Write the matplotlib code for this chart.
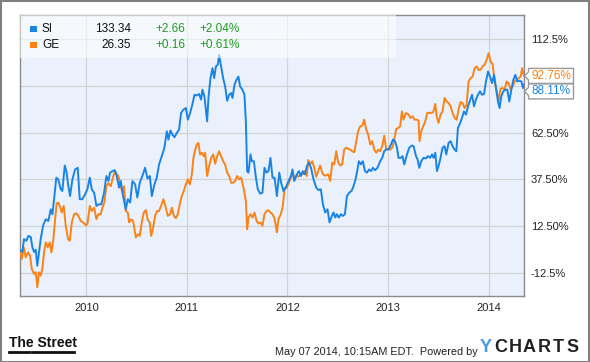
"""SI vs GE total return chart, YCharts style."""

import matplotlib

matplotlib.use("Agg")
import matplotlib.pyplot as plt
from matplotlib.lines import Line2D
from matplotlib.patches import Polygon, Rectangle
from matplotlib.transforms import IdentityTransform

plt.rcParams["font.family"] = ["Liberation Sans", "DejaVu Sans"]

# ---- data (decimal year, % change since May 2009) ----
SI_YEARS = [
    2009.335, 2009.363, 2009.380, 2009.403, 2009.423, 2009.447, 2009.463, 2009.480, 2009.497, 2009.512,
    2009.529, 2009.546, 2009.569, 2009.596, 2009.622, 2009.646, 2009.662, 2009.679, 2009.701, 2009.721,
    2009.745, 2009.761, 2009.785, 2009.801, 2009.821, 2009.838, 2009.861, 2009.888, 2009.914, 2009.934,
    2009.960, 2009.987, 2010.010, 2010.034, 2010.054, 2010.077, 2010.100, 2010.126, 2010.149, 2010.176,
    2010.199, 2010.219, 2010.236, 2010.259, 2010.283, 2010.302, 2010.325, 2010.342, 2010.365, 2010.392,
    2010.412, 2010.435, 2010.458, 2010.485, 2010.507, 2010.531, 2010.557, 2010.584, 2010.607, 2010.631,
    2010.651, 2010.677, 2010.700, 2010.723, 2010.750, 2010.776, 2010.800, 2010.816, 2010.836, 2010.856,
    2010.876, 2010.899, 2010.922, 2010.942, 2010.965, 2010.989, 2011.009, 2011.032, 2011.055, 2011.075,
    2011.098, 2011.121, 2011.141, 2011.154, 2011.174, 2011.201, 2011.214, 2011.234, 2011.254, 2011.271,
    2011.288, 2011.307, 2011.320, 2011.340, 2011.360, 2011.380, 2011.400, 2011.420, 2011.440, 2011.453,
    2011.473, 2011.493, 2011.512, 2011.529, 2011.552, 2011.572, 2011.586, 2011.599, 2011.612, 2011.632,
    2011.646, 2011.666, 2011.686, 2011.705, 2011.728, 2011.751, 2011.771, 2011.791, 2011.811, 2011.831,
    2011.851, 2011.871, 2011.895, 2011.918, 2011.937, 2011.960, 2011.987, 2012.010, 2012.034, 2012.050,
    2012.067, 2012.093, 2012.113, 2012.133, 2012.153, 2012.173, 2012.193, 2012.213, 2012.233, 2012.259,
    2012.286, 2012.308, 2012.332, 2012.352, 2012.375, 2012.398, 2012.418, 2012.442, 2012.458, 2012.475,
    2012.491, 2012.511, 2012.531, 2012.551, 2012.571, 2012.591, 2012.614, 2012.637, 2012.657, 2012.677,
    2012.696, 2012.710, 2012.730, 2012.750, 2012.770, 2012.790, 2012.810, 2012.830, 2012.850, 2012.870,
    2012.895, 2012.922, 2012.942, 2012.962, 2012.982, 2013.005, 2013.029, 2013.049, 2013.069, 2013.089,
    2013.104, 2013.128, 2013.144, 2013.161, 2013.188, 2013.211, 2013.238, 2013.254, 2013.278, 2013.294,
    2013.311, 2013.330, 2013.353, 2013.377, 2013.397, 2013.417, 2013.437, 2013.453, 2013.470, 2013.486,
    2013.502, 2013.522, 2013.542, 2013.562, 2013.579, 2013.602, 2013.622, 2013.642, 2013.662, 2013.679,
    2013.695, 2013.718, 2013.735, 2013.755, 2013.775, 2013.795, 2013.818, 2013.835, 2013.855, 2013.874,
    2013.894, 2013.914, 2013.934, 2013.954, 2013.974, 2013.994, 2014.014, 2014.034, 2014.054, 2014.074,
    2014.093, 2014.109, 2014.126, 2014.146, 2014.166, 2014.186, 2014.206, 2014.226, 2014.246, 2014.266,
    2014.286, 2014.306, 2014.326, 2014.342, 2014.352,
]
SI_VALUES = [
    0.0, -1.3, 5.6, 4.7, 7.3, 6.7, 1.3, -1.3, -0.1, -8.6,
    -1.3, 5.6, 12.7, 16.2, 15.3, 21.5, 18.9, 26.9, 38.4, 37.5,
    32.2, 31.3, 44.9, 41.9, 33.9, 28.6, 37.5, 42.8, 43.7, 26.9,
    26.9, 29.5, 32.2, 38.4, 32.2, 30.4, 23.3, 24.2, 24.2, 30.4,
    39.3, 36.6, 41.1, 41.9, 42.4, 39.3, 33.1, 36.6, 28.6, 21.5,
    26.9, 25.1, 36.6, 34.8, 27.8, 35.7, 39.3, 43.7, 38.0, 39.3,
    28.6, 34.8, 38.4, 45.5, 49.9, 54.4, 63.2, 58.8, 63.6, 61.4,
    60.0, 62.3, 64.1, 73.0, 74.7, 75.6, 69.4, 73.0, 77.8, 82.7,
    82.3, 83.1, 80.1, 85.4, 81.8, 68.5, 81.0, 91.6, 96.9, 91.6,
    97.8, 98.7, 104.0, 97.8, 91.6, 87.1, 79.5, 82.7, 83.6, 81.0,
    88.0, 90.7, 92.4, 87.1, 85.4, 82.7, 68.5, 41.9, 41.1, 50.8,
    47.2, 47.2, 38.4, 32.2, 29.9, 30.4, 43.7, 41.1, 41.9, 49.0,
    38.4, 38.4, 28.6, 41.1, 35.7, 31.3, 33.6, 36.6, 39.3, 42.8,
    36.6, 40.2, 41.9, 39.3, 41.9, 40.2, 44.6, 46.4, 43.7, 37.5,
    33.1, 31.8, 32.2, 24.2, 19.8, 21.5, 14.5, 18.0, 19.8, 17.1,
    18.9, 17.1, 18.9, 18.0, 18.9, 28.6, 30.4, 31.3, 33.9, 37.5,
    42.8, 47.2, 45.5, 47.2, 41.9, 41.1, 42.8, 41.9, 43.7, 42.4,
    43.7, 47.2, 49.0, 52.6, 53.5, 53.5, 56.1, 58.8, 57.9, 54.4,
    49.0, 49.0, 49.9, 45.5, 50.8, 54.4, 55.6, 55.2, 49.9, 48.1,
    43.7, 47.2, 49.0, 48.7, 49.9, 49.0, 50.8, 49.0, 51.7, 41.9,
    44.6, 49.0, 54.4, 55.2, 50.8, 57.0, 57.9, 55.2, 53.4, 52.5,
    65.0, 67.7, 70.3, 73.8, 72.1, 76.5, 80.1, 82.7, 76.5, 80.1,
    82.7, 84.5, 82.7, 83.1, 89.8, 95.1, 92.4, 88.9, 93.4, 86.3,
    79.2, 75.6, 81.8, 84.5, 85.4, 85.4, 79.1, 85.4, 90.7, 93.3,
    89.8, 90.2, 89.8, 86.3, 88.11,
]

GE_YEARS = [
    2009.335, 2009.357, 2009.377, 2009.397, 2009.420, 2009.440, 2009.457, 2009.480, 2009.497, 2009.512,
    2009.529, 2009.546, 2009.562, 2009.579, 2009.596, 2009.616, 2009.636, 2009.652, 2009.672, 2009.689,
    2009.705, 2009.721, 2009.741, 2009.755, 2009.775, 2009.795, 2009.818, 2009.835, 2009.855, 2009.878,
    2009.900, 2009.920, 2009.944, 2009.967, 2009.994, 2010.010, 2010.034, 2010.054, 2010.077, 2010.100,
    2010.119, 2010.143, 2010.159, 2010.179, 2010.199, 2010.219, 2010.243, 2010.259, 2010.283, 2010.302,
    2010.318, 2010.342, 2010.358, 2010.375, 2010.392, 2010.412, 2010.425, 2010.445, 2010.465, 2010.492,
    2010.511, 2010.531, 2010.551, 2010.571, 2010.591, 2010.611, 2010.631, 2010.644, 2010.664, 2010.684,
    2010.703, 2010.723, 2010.743, 2010.766, 2010.790, 2010.810, 2010.833, 2010.850, 2010.870, 2010.890,
    2010.909, 2010.929, 2010.949, 2010.969, 2010.989, 2011.009, 2011.029, 2011.049, 2011.065, 2011.082,
    2011.098, 2011.114, 2011.131, 2011.148, 2011.168, 2011.181, 2011.201, 2011.221, 2011.241, 2011.261,
    2011.281, 2011.301, 2011.320, 2011.340, 2011.360, 2011.380, 2011.400, 2011.420, 2011.440, 2011.460,
    2011.480, 2011.499, 2011.519, 2011.539, 2011.566, 2011.586, 2011.599, 2011.612, 2011.632, 2011.652,
    2011.672, 2011.692, 2011.711, 2011.731, 2011.751, 2011.771, 2011.791, 2011.811, 2011.831, 2011.851,
    2011.871, 2011.895, 2011.910, 2011.934, 2011.954, 2011.970, 2011.994, 2012.014, 2012.034, 2012.054,
    2012.074, 2012.093, 2012.113, 2012.133, 2012.153, 2012.173, 2012.193, 2012.206, 2012.226, 2012.246,
    2012.266, 2012.286, 2012.306, 2012.325, 2012.345, 2012.365, 2012.385, 2012.405, 2012.425, 2012.445,
    2012.465, 2012.485, 2012.504, 2012.524, 2012.544, 2012.564, 2012.584, 2012.604, 2012.624, 2012.644,
    2012.664, 2012.684, 2012.703, 2012.723, 2012.743, 2012.763, 2012.783, 2012.803, 2012.823, 2012.843,
    2012.863, 2012.883, 2012.902, 2012.922, 2012.942, 2012.962, 2012.982, 2013.002, 2013.022, 2013.042,
    2013.062, 2013.082, 2013.102, 2013.121, 2013.138, 2013.154, 2013.178, 2013.204, 2013.224, 2013.244,
    2013.264, 2013.284, 2013.303, 2013.313, 2013.330, 2013.350, 2013.370, 2013.390, 2013.410, 2013.430,
    2013.450, 2013.470, 2013.483, 2013.502, 2013.522, 2013.542, 2013.562, 2013.582, 2013.602, 2013.622,
    2013.642, 2013.662, 2013.682, 2013.701, 2013.721, 2013.741, 2013.761, 2013.781, 2013.801, 2013.821,
    2013.841, 2013.861, 2013.881, 2013.900, 2013.920, 2013.940, 2013.960, 2013.980, 2014.000, 2014.020,
    2014.040, 2014.060, 2014.080, 2014.099, 2014.119, 2014.139, 2014.159, 2014.179, 2014.199, 2014.219,
    2014.239, 2014.259, 2014.279, 2014.299, 2014.319, 2014.333, 2014.352,
]
GE_VALUES = [
    0.0, -5.0, 1.2, -4.1, -1.5, -3.3, -10.4, -13.0, -12.1, -20.1,
    -12.1, -13.9, -10.4, -1.5, 3.8, 1.2, 3.8, -1.5, 5.6, 16.2,
    24.7, 25.1, 22.4, 19.8, 23.3, 12.7, 5.6, 4.7, 14.5, 18.9,
    19.4, 18.0, 15.3, 14.5, 13.0, 13.6, 23.3, 20.6, 22.4, 16.2,
    18.9, 18.9, 22.4, 25.1, 33.9, 35.4, 33.9, 37.5, 41.9, 40.2,
    39.3, 33.9, 30.4, 33.9, 20.6, 19.8, 14.5, 16.2, 15.3, 6.5,
    8.2, 7.3, 14.5, 19.8, 21.1, 15.7, 14.5, 7.3, 11.8, 18.0,
    20.6, 20.6, 23.3, 26.9, 22.4, 18.0, 18.9, 22.4, 18.0, 16.8,
    18.9, 24.2, 28.6, 31.3, 34.8, 37.5, 34.8, 40.2, 49.0, 53.4,
    56.1, 57.0, 50.8, 51.7, 49.9, 51.7, 39.3, 44.6, 49.0, 50.8,
    45.9, 49.9, 52.5, 49.9, 47.2, 45.5, 41.1, 39.3, 35.7, 35.7,
    36.6, 39.3, 37.5, 38.4, 32.2, 26.0, 10.9, 17.1, 18.9, 17.1,
    19.8, 15.3, 13.9, 14.5, 12.7, 18.9, 20.6, 21.0, 19.8, 18.9,
    16.7, 9.2, 16.2, 18.9, 23.3, 32.2, 33.1, 35.7, 38.4, 40.2,
    37.9, 39.6, 38.9, 40.7, 40.2, 41.9, 39.3, 47.8, 45.5, 47.2,
    43.7, 38.9, 41.9, 44.9, 41.1, 39.6, 39.6, 40.2, 36.6, 46.4,
    45.5, 52.5, 46.7, 44.9, 45.5, 53.4, 54.4, 53.8, 53.4, 52.5,
    52.0, 57.9, 63.2, 65.9, 66.2, 69.4, 64.1, 61.4, 56.1, 57.9,
    53.4, 51.7, 53.4, 52.5, 55.2, 60.9, 53.4, 53.8, 53.4, 54.4,
    58.8, 64.5, 65.0, 65.9, 73.8, 69.4, 73.0, 72.1, 70.3, 71.2,
    69.4, 69.4, 68.9, 57.9, 63.2, 65.9, 68.5, 73.0, 73.0, 73.0,
    73.5, 77.8, 71.2, 67.7, 72.1, 73.8, 81.0, 79.1, 78.3, 76.5,
    73.0, 70.3, 69.4, 74.7, 78.8, 78.3, 75.6, 77.4, 89.8, 91.6,
    92.4, 96.9, 97.8, 96.0, 96.0, 97.8, 98.7, 101.3, 104.9, 100.4,
    99.0, 89.8, 84.5, 79.5, 85.9, 86.3, 85.4, 89.8, 88.9, 85.4,
    87.1, 89.8, 90.7, 91.6, 92.4, 96.9, 92.76,
]

TICKERS = ["SI", "GE"]
PRICES = ["133.34", "26.35"]
CHANGES = ["+2.66", "+0.16"]
CHANGE_PCTS = ["+2.04%", "+0.61%"]
FINAL_LABELS = ["88.11%", "92.76%"]
Y_TICKS = [-12.5, 12.5, 37.5, 62.5, 87.5, 112.5]
Y_TICK_LABELS = ["-12.5%", "12.50%", "37.50%", "62.50%", "", "112.5%"]
X_TICKS = [2010, 2011, 2012, 2013, 2014]

BLUE = "#1a84e4"
ORANGE = "#fb8216"
GREEN = "#1d9d1d"
W, H = 590, 362


def fx(px):
    return px / W


def fy(py):
    return 1 - py / H


fig = plt.figure(figsize=(W / 100, H / 100), dpi=100)
fig.patch.set_facecolor("white")
fig.add_artist(Rectangle((0.5, 0.5), W - 1.5, H - 1.5, transform=IdentityTransform(),
                         fill=False, edgecolor="#808080", linewidth=1.5))

ax = fig.add_axes([fx(19.5), fy(296), fx(524) - fx(19.5), fy(15) - fy(296)])
ax.set_facecolor("#eaf1fc")
ax.set_xlim(SI_YEARS[0], SI_YEARS[-1])
ax.set_ylim(-24.8, 125.3)
ax.set_xticks(X_TICKS)
ax.set_xticklabels([str(y) for y in X_TICKS])
ax.set_yticks(Y_TICKS)
ax.set_yticklabels(Y_TICK_LABELS)
ax.yaxis.tick_right()
ax.tick_params(axis="both", length=0, labelsize=8, colors="#222222")
ax.tick_params(axis="x", pad=5)
ax.tick_params(axis="y", pad=5)
ax.grid(True, color="#d3d3d3", linewidth=0.9)
ax.set_axisbelow(True)
for s in ax.spines.values():
    s.set_color("#8a8a8a")
    s.set_linewidth(1.0)

# semi-transparent legend panel
fig.add_artist(Rectangle((fx(19.5), fy(58)), fx(396) - fx(19.5), fy(15) - fy(58),
                         transform=fig.transFigure, facecolor="white", alpha=0.55,
                         edgecolor="none", zorder=1.5))

ax.plot(GE_YEARS, GE_VALUES, color=ORANGE, linewidth=1.4, zorder=3)
ax.plot(SI_YEARS, SI_VALUES, color=BLUE, linewidth=1.4, zorder=3)

# legend rows
for i, (tk, pr, ch, cp, col) in enumerate(zip(TICKERS, PRICES, CHANGES, CHANGE_PCTS, [BLUE, ORANGE])):
    yc = 29 + 16 * i
    fig.add_artist(Rectangle((fx(30.5), fy(yc + 3)), fx(6), 6 / H, transform=fig.transFigure,
                             facecolor=col, edgecolor="none", zorder=5))
    fig.text(fx(42), fy(yc), tk, fontsize=8.5, color="#111111", va="center", ha="left", zorder=5)
    fig.text(fx(131), fy(yc), pr, fontsize=8.5, color="#111111", va="center", ha="right", zorder=5)
    fig.text(fx(185), fy(yc), ch, fontsize=8.5, color=GREEN, va="center", ha="right", zorder=5)
    fig.text(fx(199), fy(yc), cp, fontsize=8.5, color=GREEN, va="center", ha="left", zorder=5)

# end value tags (orange on top, blue pushed below it)
x_end = SI_YEARS[-1]
y_ge = ax.transData.transform((x_end, GE_VALUES[-1]))[1]
y_si = ax.transData.transform((x_end, SI_VALUES[-1]))[1]
y_si = min(y_si, y_ge - 15.5)
tip_x = ax.transData.transform((x_end, 0))[0] + 0.5
for yc, label, col in [(y_ge, FINAL_LABELS[1], ORANGE), (y_si, FINAL_LABELS[0], BLUE)]:
    x0, x1, hh = tip_x + 4, tip_x + 49, 7.5
    pts = [(x0, yc + hh), (x1, yc + hh), (x1, yc - hh), (x0, yc - hh),
           (x0, yc - 4), (tip_x, yc), (x0, yc + 4)]
    fig.add_artist(Polygon(pts, closed=True, transform=IdentityTransform(),
                           facecolor="white", edgecolor="#9a9a9a", linewidth=1.0, zorder=6))
    fig.text((x0 + x1) / 2 / W + 0.5 / W, yc / H, label, fontsize=8.5, color=col,
             ha="center", va="center", zorder=7)

# footer
fig.text(fx(9), fy(347), "The Street", fontsize=10, fontweight="bold",
         color="#111111", ha="left", va="baseline")
for a, b in [(9, 29), (32, 52), (54, 74)]:
    fig.add_artist(Line2D([fx(a), fx(b)], [fy(351.5), fy(351.5)], transform=fig.transFigure,
                          color="#111111", linewidth=2.0))
fig.text(fx(275), fy(352), "May 07 2014, 10:15AM EDT.  Powered by", fontsize=7.8,
         color="#222222", ha="left", va="center")
logo_x = [486, 500.5, 515, 529.5, 544, 558.5, 573]
for ch, xc in zip("YCHARTS", logo_x):
    fig.text(fx(xc), fy(348), ch, fontsize=13, fontweight="heavy",
             color="#4a98e6" if ch == "Y" else "#222222", ha="center", va="center")

fig.savefig("out.png", dpi=100)
